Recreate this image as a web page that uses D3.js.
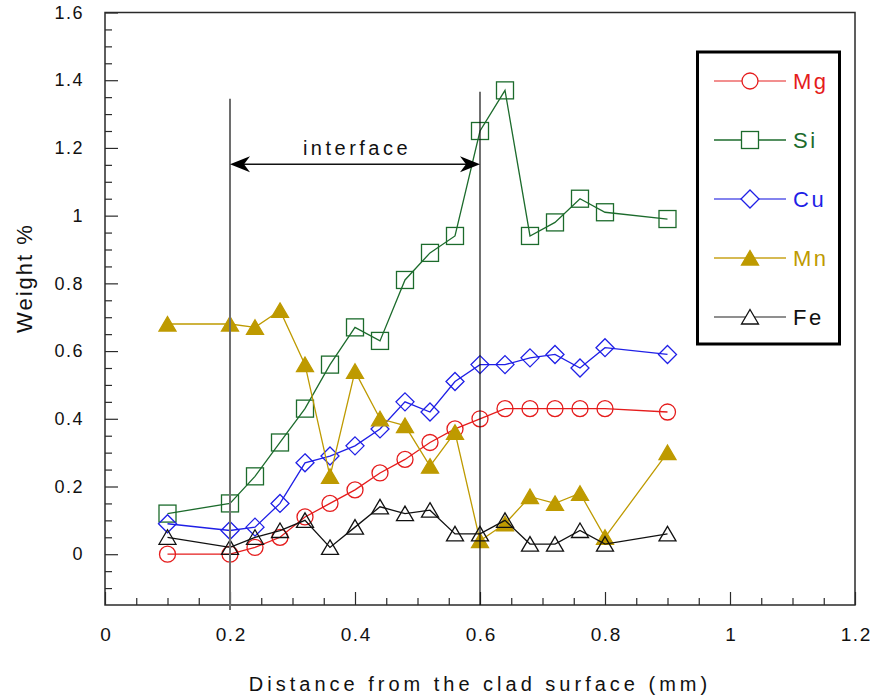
<!DOCTYPE html>
<html>
<head>
<meta charset="utf-8">
<script src="https://cdn.jsdelivr.net/npm/d3@7/dist/d3.min.js"></script>
<style>
  html, body { margin: 0; padding: 0; background: #ffffff; }
  svg { display: block; font-family: "Liberation Sans", Arial, sans-serif; }
</style>
</head>
<body>
<svg id="chart" width="872" height="698"></svg>
<script>
// Distance from the clad surface (mm) at each measurement point
const distance = [0.10, 0.20, 0.24, 0.28, 0.32, 0.36, 0.40, 0.44, 0.48, 0.52, 0.56, 0.60, 0.64, 0.68, 0.72, 0.76, 0.80, 0.90];

// Element concentrations (weight %)
const mg = [0.00, 0.00, 0.02, 0.05, 0.11, 0.15, 0.19, 0.24, 0.28, 0.33, 0.37, 0.40, 0.43, 0.43, 0.43, 0.43, 0.43, 0.42];
const si = [0.12, 0.15, 0.23, 0.33, 0.43, 0.56, 0.67, 0.63, 0.81, 0.89, 0.94, 1.25, 1.37, 0.94, 0.98, 1.05, 1.01, 0.99];
const cu = [0.09, 0.07, 0.08, 0.15, 0.27, 0.29, 0.32, 0.37, 0.45, 0.42, 0.51, 0.56, 0.56, 0.58, 0.59, 0.55, 0.61, 0.59];
const mn = [0.68, 0.68, 0.67, 0.72, 0.56, 0.23, 0.54, 0.40, 0.38, 0.26, 0.36, 0.04, 0.09, 0.17, 0.15, 0.18, 0.05, 0.30];
const fe = [0.05, 0.02, 0.05, 0.07, 0.10, 0.02, 0.08, 0.14, 0.12, 0.13, 0.06, 0.06, 0.10, 0.03, 0.03, 0.07, 0.03, 0.06];

const seriesNames = ["Mg", "Si", "Cu", "Mn", "Fe"];

// Axis ticks and their labels
const xTicks = [0, 0.2, 0.4, 0.6, 0.8, 1.0, 1.2];
const xTickLabels = ["0", "0.2", "0.4", "0.6", "0.8", "1", "1.2"];
const yTicks = [0, 0.2, 0.4, 0.6, 0.8, 1.0, 1.2, 1.4, 1.6];
const yTickLabels = ["0", "0.2", "0.4", "0.6", "0.8", "1", "1.2", "1.4", "1.6"];

// Interface zone boundaries
const interfaceStart = 0.2;
const interfaceEnd = 0.6;

const svg = d3.select("#chart");

const plot = { left: 105, right: 855, top: 12.5, bottom: 605 };

const x = d3.scaleLinear().domain([0, 1.2]).range([plot.left, plot.right]);
const y = d3.scaleLinear().domain([-0.15, 1.6]).range([plot.bottom, plot.top]);

const xMinor = d3.range(1, 24).map(i => i * 0.05).filter(v => Math.abs(v / 0.2 - Math.round(v / 0.2)) > 1e-6);
const yMinor = d3.range(-2, 32).map(i => i * 0.05).filter(v => Math.abs(v / 0.2 - Math.round(v / 0.2)) > 1e-6);

const axisColor = "#2a2a2a";

// Minor ticks (inward)
svg.append("g")
  .attr("transform", `translate(0,${plot.bottom})`)
  .call(d3.axisBottom(x).tickValues(xMinor).tickSize(-7).tickFormat(""))
  .call(g => g.select(".domain").remove())
  .call(g => g.selectAll("line").attr("stroke", axisColor).attr("stroke-width", 1.2));

svg.append("g")
  .attr("transform", `translate(${plot.left},0)`)
  .call(d3.axisLeft(y).tickValues(yMinor).tickSize(-7).tickFormat(""))
  .call(g => g.select(".domain").remove())
  .call(g => g.selectAll("line").attr("stroke", axisColor).attr("stroke-width", 1.2));

// Major ticks with labels
svg.append("g")
  .attr("transform", `translate(0,${plot.bottom})`)
  .call(d3.axisBottom(x).tickValues(xTicks).tickSize(-13).tickPadding(23)
    .tickFormat((d, i) => xTickLabels[i]))
  .call(g => g.select(".domain").remove())
  .call(g => g.selectAll("line").attr("stroke", axisColor).attr("stroke-width", 1.2))
  .call(g => g.selectAll("text")
    .attr("fill", "#111").attr("font-size", 19).attr("letter-spacing", 1.5)
    .attr("dx", 0.75)
    .style("font-family", "'Liberation Sans', Arial, sans-serif"));

svg.append("g")
  .attr("transform", `translate(${plot.left},0)`)
  .call(d3.axisLeft(y).tickValues(yTicks).tickSize(-13).tickPadding(21)
    .tickFormat((d, i) => yTickLabels[i]))
  .call(g => g.select(".domain").remove())
  .call(g => g.selectAll("line").attr("stroke", axisColor).attr("stroke-width", 1.2))
  .call(g => g.selectAll("text")
    .attr("fill", "#111").attr("font-size", 18).attr("letter-spacing", 1.5)
    .style("font-family", "'Liberation Sans', Arial, sans-serif"));

// Plot frame
svg.append("rect")
  .attr("x", plot.left).attr("y", plot.top)
  .attr("width", plot.right - plot.left).attr("height", plot.bottom - plot.top)
  .attr("fill", "none").attr("stroke", axisColor).attr("stroke-width", 1.5);

// Marker shapes
const shapes = {
  circle: g => g.append("circle").attr("r", 8),
  square: g => g.append("rect").attr("x", -8.5).attr("y", -8.5).attr("width", 17).attr("height", 17),
  diamond: g => g.append("path").attr("d", "M0,-9 L9,0 L0,9 L-9,0 Z"),
  triangle: g => g.append("path").attr("d", "M0,-7.5 L8.5,7 L-8.5,7 Z")
};

const series = [
  { name: seriesNames[0], values: mg, color: "#e51c1c", legendLine: "#ee6a6a", shape: "circle", filled: false },
  { name: seriesNames[1], values: si, color: "#1c6b2c", legendLine: "#1c6b2c", shape: "square", filled: false },
  { name: seriesNames[2], values: cu, color: "#1f1fe6", legendLine: "#5a5ae8", shape: "diamond", filled: false },
  { name: seriesNames[3], values: mn, color: "#be9a00", legendLine: "#c9a31a", shape: "triangle", filled: true },
  { name: seriesNames[4], values: fe, color: "#111111", legendLine: "#6a6a6a", shape: "triangle", filled: false }
];

const line = d3.line().x(d => x(d[0])).y(d => y(d[1]));

series.forEach(s => {
  const pts = distance.map((d, i) => [d, s.values[i]]);
  const g = svg.append("g");
  g.append("path")
    .attr("d", line(pts))
    .attr("fill", "none")
    .attr("stroke", s.color)
    .attr("stroke-width", 1.3);
  pts.forEach(p => {
    const m = g.append("g").attr("transform", `translate(${x(p[0])},${y(p[1])})`);
    shapes[s.shape](m)
      .attr("fill", s.filled ? s.color : "none")
      .attr("stroke", s.color)
      .attr("stroke-width", 1.3);
  });
});

// Interface boundaries and arrow
svg.append("line")
  .attr("x1", x(interfaceStart)).attr("x2", x(interfaceStart))
  .attr("y1", y(1.345)).attr("y2", plot.bottom + 5)
  .attr("stroke", "#6e6e6e").attr("stroke-width", 2);
svg.append("line")
  .attr("x1", x(interfaceEnd)).attr("x2", x(interfaceEnd))
  .attr("y1", y(1.366)).attr("y2", plot.bottom)
  .attr("stroke", "#111").attr("stroke-width", 1.2);

const arrowY = y(1.152);
svg.append("line")
  .attr("x1", x(interfaceStart) + 4).attr("x2", x(interfaceEnd) - 4)
  .attr("y1", arrowY).attr("y2", arrowY)
  .attr("stroke", "#111").attr("stroke-width", 1.5);
const head = "M0,0 L20,-8 L14,0 L20,8 Z";
svg.append("path").attr("d", head)
  .attr("transform", `translate(${x(interfaceStart)},${arrowY})`).attr("fill", "#000");
svg.append("path").attr("d", head)
  .attr("transform", `translate(${x(interfaceEnd)},${arrowY}) scale(-1,1)`).attr("fill", "#000");

svg.append("text")
  .attr("x", (x(interfaceStart) + x(interfaceEnd)) / 2 + 2)
  .attr("y", arrowY - 9)
  .attr("text-anchor", "middle")
  .attr("font-size", 20)
  .attr("letter-spacing", 3.5)
  .attr("fill", "#111")
  .text("interface");

// Legend
const legend = { x: 697.5, y: 52, w: 142, h: 292 };
svg.append("rect")
  .attr("x", legend.x).attr("y", legend.y)
  .attr("width", legend.w).attr("height", legend.h)
  .attr("fill", "#fff").attr("stroke", "#000").attr("stroke-width", 3);

const legendRows = [81, 140, 199, 258, 317];
series.forEach((s, i) => {
  const ly = legendRows[i];
  svg.append("line")
    .attr("x1", 714).attr("x2", 786).attr("y1", ly).attr("y2", ly)
    .attr("stroke", s.legendLine).attr("stroke-width", 1.5);
  const m = svg.append("g").attr("transform", `translate(750,${ly})`);
  shapes[s.shape](m)
    .attr("fill", s.filled ? s.color : "#fff")
    .attr("stroke", s.color)
    .attr("stroke-width", 1.3);
  svg.append("text")
    .attr("x", 793).attr("y", ly + 8)
    .attr("font-size", 22)
    .attr("letter-spacing", 2.5)
    .attr("fill", s.color)
    .text(s.name);
});

// Axis titles
svg.append("text")
  .attr("x", 480).attr("y", 691)
  .attr("text-anchor", "middle")
  .attr("font-size", 20)
  .attr("letter-spacing", 4)
  .attr("fill", "#111")
  .text("Distance from the clad surface (mm)");

svg.append("text")
  .attr("transform", "translate(32,278) rotate(-90)")
  .attr("text-anchor", "middle")
  .attr("font-size", 22)
  .attr("letter-spacing", 2)
  .attr("fill", "#111")
  .text("Weight %");
</script>
</body>
</html>
